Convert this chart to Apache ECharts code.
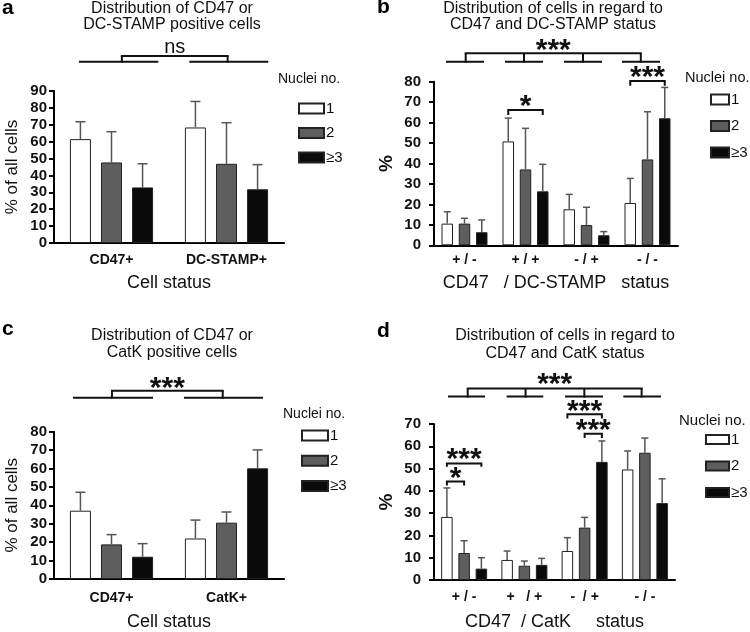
<!DOCTYPE html>
<html><head><meta charset="utf-8">
<script src="https://cdn.jsdelivr.net/npm/echarts@6/dist/echarts.min.js"></script>
<style>html,body{margin:0;padding:0;background:#fff}#c{width:750px;height:632px}</style>
</head><body><div id="c"></div>
<script>
// ---------- data ----------
const nucleiNames = ['1', '2', '≥3'];

const catsA = ['CD47+', 'DC-STAMP+'];
const aOne = [61.5, 68.4], aTwo = [47.7, 46.9], aThree = [32.9, 31.8];
const aOneSd = [10.3, 15.4], aTwoSd = [18.2, 24.3], aThreeSd = [14.0, 14.6];

const catsB = ['+ / -', '+ / +', '- / +', '- / -'];
const bOne = [10.6, 50.8, 17.6, 20.7], bTwo = [10.6, 37.1, 9.9, 42.0], bThree = [6.4, 26.4, 4.9, 62.1];
const bOneSd = [5.8, 11.4, 7.3, 12.0], bTwoSd = [2.6, 20.1, 8.7, 23.3], bThreeSd = [6.0, 13.2, 1.8, 15.1];

const catsC = ['CD47+', 'CatK+'];
const cOne = [37.1, 22.0], cTwo = [18.8, 30.6], cThree = [12.1, 60.1];
const cOneSd = [10.0, 10.0], cTwoSd = [5.3, 5.8], cThreeSd = [7.1, 10.0];

const catsD = ['+ / -', '+   / +', '-  / +', '- / -'];
const dOne = [28.3, 9.0, 13.0, 49.6], dTwo = [12.1, 6.4, 23.5, 57.1], dThree = [5.1, 6.8, 53.0, 34.5];
const dOneSd = [13.0, 4.0, 6.0, 8.3], dTwoSd = [5.5, 2.1, 4.6, 6.6], dThreeSd = [4.9, 2.9, 9.4, 10.9];

const yMaxA = 90, yMaxB = 80, yMaxC = 80, yMaxD = 70, yStep = 10;

// significance annotations (data coordinates)
const sigTopA = { text: 'ns', textVal: 116, topVal: 110.7, lineVal: 107.3, verts: [0.09, 0.01], spans: [[-0.283, 0.407], [-0.323, 0.363]] };
const sigTopB = { text: '***', textVal: 96.7, topVal: 93.9, lineVal: 89.8, verts: [0.02, -0.025, -0.057, -0.11], spans: [[-0.303, 0.32], [-0.336, 0.287], [-0.369, 0.254], [-0.418, 0.205]] };
const sigTopC = { text: '***', textVal: 105, topVal: 102.3, lineVal: 98.4, verts: [0.004, -0.033], spans: [[-0.335, 0.361], [-0.37, 0.317]] };
const sigTopD = { text: '***', textVal: 88.9, topVal: 85.9, lineVal: 82.3, verts: [0.06, 0.02, -0.005, -0.054], spans: [[-0.267, 0.347], [-0.294, 0.314], [-0.325, 0.305], [-0.357, 0.267]] };
const sigPairsB = [
  { group: 1, from: 0, to: 2, lineVal: 66.2, dropVal: 63.7, text: '*', textVal: 69.1 },
  { group: 3, from: 0, to: 2, lineVal: 80.3, dropVal: 78.0, text: '***', textVal: 83.5 }
];
const sigPairsD = [
  { group: 0, from: 0, to: 2, lineVal: 52.3, dropVal: 50.8, text: '***', textVal: 55.1 },
  { group: 0, from: 0, to: 1, lineVal: 44.2, dropVal: 42.4, text: '*', textVal: 46.8 },
  { group: 2, from: 0, to: 2, lineVal: 74.4, dropVal: 72.5, text: '***', textVal: 77.0 },
  { group: 2, from: 1, to: 2, lineVal: 65.6, dropVal: 63.7, text: '***', textVal: 68.2 }
];

// ---------- styles ----------
const FONT = '"Liberation Sans", Arial, sans-serif';
const fills = ['#ffffff', '#5e5e5e', '#0a0a0a'];
const TXT = '#111';

const panels = [
  { cats: catsA, vals: [aOne, aTwo, aThree], sds: [aOneSd, aTwoSd, aThreeSd], max: yMaxA,
    grid: { left: 54, top: 91, width: 230, height: 152 }, bw: 21, gap: 0.48, cap: 5,
    yName: '% of all cells', yNameBold: false, yNameSize: 17, yNameGap: 33, yLabelMargin: 7,
    xName: 'Cell status', xNameGap: 31, xLabelMargin: 10,
    top: sigTopA, pairs: [],
    legend: { left: 293, top: 96, itemWidth: 25, itemHeight: 10, itemGap: 9.5 },
    legendTitle: { x: 278, y: 81, size: 14 } },
  { cats: catsB, vals: [bOne, bTwo, bThree], sds: [bOneSd, bTwoSd, bThreeSd], max: yMaxB,
    grid: { left: 434, top: 81.7, width: 244, height: 163.6 }, bw: 11.5, gap: 0.5, cap: 3.5,
    yName: '%', yNameBold: true, yNameSize: 19, yNameGap: 38, yLabelMargin: 13,
    xName: 'CD47   / DC-STAMP   status', xNameGap: 29, xLabelMargin: 8,
    top: sigTopB, pairs: sigPairsB,
    legend: { left: 705, top: 87, itemWidth: 18, itemHeight: 10, itemGap: 11.5 },
    legendTitle: { x: 685, y: 79, size: 14.5 } },
  { cats: catsC, vals: [cOne, cTwo, cThree], sds: [cOneSd, cTwoSd, cThreeSd], max: yMaxC,
    grid: { left: 54, top: 431.7, width: 230, height: 151.6 }, bw: 21, gap: 0.48, cap: 5,
    yName: '% of all cells', yNameBold: false, yNameSize: 17, yNameGap: 33, yLabelMargin: 7,
    xName: 'Cell status', xNameGap: 34, xLabelMargin: 12,
    top: sigTopC, pairs: [],
    legend: { left: 296, top: 423, itemWidth: 26, itemHeight: 10, itemGap: 10.3 },
    legendTitle: { x: 283, y: 416, size: 14 } },
  { cats: catsD, vals: [dOne, dTwo, dThree], sds: [dOneSd, dTwoSd, dThreeSd], max: yMaxD,
    grid: { left: 434, top: 424, width: 241, height: 159.3 }, bw: 11.5, gap: 0.5, cap: 3.5,
    yName: '%', yNameBold: true, yNameSize: 19, yNameGap: 38, yLabelMargin: 13,
    xName: 'CD47  / CatK     status', xNameGap: 33, xLabelMargin: 10,
    top: sigTopD, pairs: sigPairsD,
    legend: { left: 700, top: 427, itemWidth: 23, itemHeight: 9, itemGap: 11.5 },
    legendTitle: { x: 679, y: 422, size: 15 } }
];

function errRender(offset, cap) {
  return function (params, api) {
    const c = api.value(0), v = api.value(1), s = api.value(2);
    const p0 = api.coord([c, v]), p1 = api.coord([c, v + s]);
    const x = p0[0] + offset;
    const st = { stroke: '#555', lineWidth: 1.5 };
    return { type: 'group', children: [
      { type: 'line', shape: { x1: x, y1: p0[1], x2: x, y2: p1[1] }, style: st },
      { type: 'line', shape: { x1: x - cap, y1: p1[1], x2: x + cap, y2: p1[1] }, style: st }
    ] };
  };
}

function sigText(x, y, t) {
  const star = t.indexOf('*') >= 0;
  return { type: 'text', x: x, y: y + (star ? 3 : 0), style: {
    text: t, fill: '#111', align: 'center', verticalAlign: 'middle',
    font: (star ? 'bold 30px ' : '20px ') + FONT } };
}

function sigRender(top, pairs, step) {
  return function (params, api) {
    const band = api.size([1, 0])[0];
    const X = (g, f) => api.coord([g, 0])[0] + f * band;
    const Y = v => api.coord([0, v])[1];
    const ln = { stroke: '#111', lineWidth: 2, fill: null };
    const ch = [];
    if (top) {
      const yl = Y(top.lineVal), yt = Y(top.topVal);
      top.verts.forEach((vf, g) => {
        ch.push({ type: 'line', shape: { x1: X(g, top.spans[g][0]), y1: yl, x2: X(g, top.spans[g][1]), y2: yl }, style: ln });
        ch.push({ type: 'line', shape: { x1: X(g, vf), y1: yl + 1, x2: X(g, vf), y2: yt }, style: ln });
      });
      const n = top.verts.length - 1;
      const x0 = X(0, top.verts[0]), x1 = X(n, top.verts[n]);
      ch.push({ type: 'line', shape: { x1: x0 - 1, y1: yt, x2: x1 + 1, y2: yt }, style: ln });
      ch.push(sigText((x0 + x1) / 2, Y(top.textVal), top.text));
    }
    pairs.forEach(p => {
      const xc = api.coord([p.group, 0])[0];
      const xa = xc + (p.from - 1) * step, xb = xc + (p.to - 1) * step;
      const yl = Y(p.lineVal), yd = Y(p.dropVal);
      ch.push({ type: 'polyline', shape: { points: [[xa, yd], [xa, yl], [xb, yl], [xb, yd]] }, style: ln });
      ch.push(sigText((xa + xb) / 2, Y(p.textVal), p.text));
    });
    return { type: 'group', children: ch };
  };
}

const option = { animation: false, backgroundColor: '#fff', grid: [], xAxis: [], yAxis: [], series: [], legend: [], graphic: [] };

panels.forEach((p, i) => {
  option.grid.push(p.grid);
  option.xAxis.push({
    type: 'category', gridIndex: i, data: p.cats,
    axisLine: { lineStyle: { color: '#000', width: 2 } },
    axisTick: { alignWithLabel: true, length: 5, lineStyle: { color: '#000', width: 2 } },
    axisLabel: { color: TXT, fontWeight: 'bold', fontSize: 14, fontFamily: FONT, margin: p.xLabelMargin },
    name: p.xName, nameLocation: 'middle', nameGap: p.xNameGap,
    nameTextStyle: { color: TXT, fontSize: 18, fontFamily: FONT }
  });
  option.yAxis.push({
    type: 'value', gridIndex: i, min: 0, max: p.max, interval: yStep,
    splitLine: { show: false },
    axisLine: { show: true, lineStyle: { color: '#000', width: 2 } },
    axisTick: { show: true, length: 5, lineStyle: { color: '#000', width: 2 } },
    axisLabel: { color: TXT, fontWeight: 'bold', fontSize: 15, fontFamily: FONT, margin: p.yLabelMargin },
    name: p.yName, nameLocation: 'middle', nameGap: p.yNameGap,
    nameTextStyle: { color: TXT, fontSize: p.yNameSize, fontFamily: FONT, fontWeight: p.yNameBold ? 'bold' : 'normal' }
  });
  const step = p.bw * (1 + p.gap);
  p.vals.forEach((vals, k) => {
    option.series.push({
      type: 'bar', name: nucleiNames[k], xAxisIndex: i, yAxisIndex: i, data: vals,
      barWidth: p.bw, barGap: (p.gap * 100) + '%',
      itemStyle: { color: fills[k], borderColor: '#222', borderWidth: 1 }
    });
  });
  p.vals.forEach((vals, k) => {
    option.series.push({
      type: 'custom', xAxisIndex: i, yAxisIndex: i, z: 5, silent: true,
      data: vals.map((v, j) => [j, v, p.sds[k][j]]),
      renderItem: errRender((k - 1) * step, p.cap)
    });
  });
  option.series.push({
    type: 'custom', xAxisIndex: i, yAxisIndex: i, z: 6, silent: true, clip: false,
    data: [[0, 0]], renderItem: sigRender(p.top, p.pairs, step)
  });
  option.legend.push(Object.assign({
    orient: 'vertical', data: nucleiNames, icon: 'rect', selectedMode: false,
    textStyle: { color: TXT, fontSize: 15, fontFamily: FONT, padding: [0, 0, 0, -3] }
  }, p.legend));
  option.graphic.push({ type: 'text', left: p.legendTitle.x, top: p.legendTitle.y - 9,
    style: { text: 'Nuclei no.', fill: TXT, font: p.legendTitle.size + 'px ' + FONT } });
});

// titles and panel letters
const titles = [
  ['Distribution of CD47 or', 'DC-STAMP positive cells', 172, 8.5, 25],
  ['Distribution of cells in regard to', 'CD47 and DC-STAMP status', 553, 8.5, 25],
  ['Distribution of CD47 or', 'CatK positive cells', 172, 336, 352.7],
  ['Distribution of cells in regard to', 'CD47 and CatK status', 565, 336, 353.7]
];
titles.forEach(t => {
  option.graphic.push({ type: 'text', x: t[2], y: t[3], style: { text: t[0], fill: TXT, align: 'center', verticalAlign: 'middle', font: '16px ' + FONT } });
  option.graphic.push({ type: 'text', x: t[2], y: t[4], style: { text: t[1], fill: TXT, align: 'center', verticalAlign: 'middle', font: '16px ' + FONT } });
});
const letters = [['a', 2, 8], ['b', 377, 7.5], ['c', 2, 329], ['d', 377, 331.5]];
letters.forEach(l => {
  option.graphic.push({ type: 'text', x: l[1], y: l[2], style: { text: l[0], fill: '#000', align: 'left', verticalAlign: 'middle', font: 'bold 21px ' + FONT } });
});

const chart = echarts.init(document.getElementById('c'), null, { renderer: 'canvas' });
chart.setOption(option);
</script>
</body></html>
